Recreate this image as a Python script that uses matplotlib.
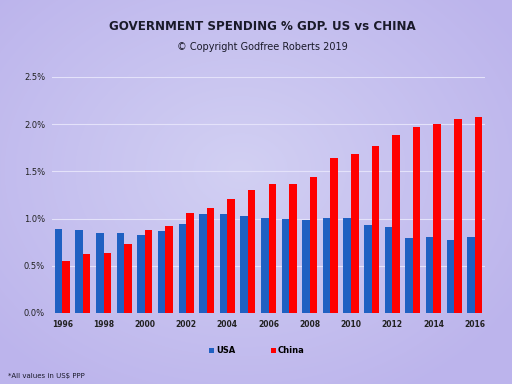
import matplotlib
matplotlib.use('Agg')
import matplotlib.pyplot as plt
import numpy as np

years = list(range(1996, 2017))
usa = [0.887, 0.877, 0.852, 0.845, 0.831, 0.870, 0.947, 1.049, 1.053, 1.028,
       1.004, 1.000, 0.986, 1.011, 1.011, 0.937, 0.908, 0.799, 0.810, 0.778, 0.810]
china = [0.546, 0.627, 0.637, 0.736, 0.880, 0.926, 1.060, 1.113, 1.208, 1.299,
         1.366, 1.366, 1.437, 1.644, 1.687, 1.764, 1.884, 1.972, 2.004, 2.053, 2.081]
yticks = [0.0, 0.5, 1.0, 1.5, 2.0, 2.5]
ytick_labels = ['0.0%', '0.5%', '1.0%', '1.5%', '2.0%', '2.5%']
xtick_years = years[::2]

fig = plt.figure(figsize=(5.12, 3.84), dpi=100)

# radial gradient background
bg = fig.add_axes([0, 0, 1, 1], zorder=-10)
yy, xx = np.mgrid[0:384, 0:512]
d = np.sqrt(((xx - 240) / 330.0) ** 2 + ((yy - 170) / 260.0) ** 2)
d = np.clip(d, 0, 1)
inner = np.array([210, 208, 243]) / 255.0
outer = np.array([188, 180, 236]) / 255.0
img = inner[None, None, :] * (1 - d[..., None]) + outer[None, None, :] * d[..., None]
bg.imshow(img, aspect='auto', extent=[0, 1, 0, 1])
bg.axis('off')

ax = fig.add_axes([0.1016, 0.1849, 0.8457, 0.6146])
ax.patch.set_alpha(0)
x = np.array(years)
w = 0.365
ax.bar(x - w / 2, usa, width=w, color='#1F60C2', label='USA', zorder=3)
ax.bar(x + w / 2, china, width=w, color='#FF0000', label='China', zorder=3)

ax.set_xlim(1995.5, 2016.5)
ax.set_ylim(0, 2.5)
ax.set_yticks(yticks)
ax.set_yticklabels(ytick_labels, fontsize=6, color='#222222')
ax.set_xticks(xtick_years)
ax.set_xticklabels([str(y) for y in xtick_years], fontsize=5.5, fontweight='bold', color='#222222')
ax.tick_params(length=0, pad=5)
ax.grid(axis='y', color='#E4E2FA', linewidth=0.8, zorder=0)
for s in ax.spines.values():
    s.set_visible(False)

ax.legend(loc='upper center', bbox_to_anchor=(0.473, -0.11), ncol=2, frameon=False,
          prop={'size': 6, 'weight': 'bold'}, handlelength=0.6, handleheight=0.6,
          columnspacing=4.2, handletextpad=0.3)

fig.text(0.512, 0.932, 'GOVERNMENT SPENDING % GDP. US vs CHINA', ha='center', va='center',
         fontsize=8.6, fontweight='bold', color='#1a1a2a')
fig.text(0.512, 0.877, '\u00a9 Copyright Godfree Roberts 2019', ha='center', va='center',
         fontsize=7, color='#1a1a2a')
fig.text(0.016, 0.02, '*All values in US$ PPP', ha='left', va='center', fontsize=5, color='#1a1a2a')

fig.savefig('out.png', dpi=100)
